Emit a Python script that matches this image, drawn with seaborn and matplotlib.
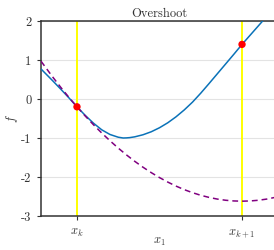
import matplotlib
matplotlib.use("Agg")
import matplotlib.pyplot as plt
import seaborn as sns
import numpy as np
import pandas as pd

# ---- data (x_k = 0, x_{k+1} = 1) ----
blue_x = [-0.218, -0.15, -0.10, -0.05, 0.0, 0.05, 0.10, 0.15, 0.20, 0.25, 0.28,
          0.30, 0.32, 0.35, 0.40, 0.45, 0.50, 0.55, 0.60, 0.65, 0.70, 0.75, 0.80,
          0.85, 0.90, 0.95, 1.00, 1.05, 1.10, 1.15, 1.218]
blue_f = [0.77, 0.48, 0.26, 0.035, -0.20, -0.42, -0.62, -0.79, -0.91, -0.98, -1.0,
          -0.997, -0.99, -0.97, -0.917, -0.84, -0.737, -0.61, -0.457, -0.28, -0.08, 0.15, 0.395,
          0.645, 0.895, 1.145, 1.40, 1.64, 1.88, 2.12, 2.45]

model_x = [-0.218, -0.15, -0.10, -0.05, 0.0, 0.05, 0.10, 0.15, 0.20, 0.25, 0.30,
           0.35, 0.40, 0.45, 0.50, 0.55, 0.60, 0.65, 0.70, 0.75, 0.80, 0.85,
           0.90, 0.95, 1.00, 1.05, 1.10, 1.15, 1.20, 1.218]
model_f = [0.970, 0.58, 0.308, 0.048, -0.20, -0.436, -0.66, -0.872, -1.071, -1.259, -1.434,
           -1.598, -1.749, -1.888, -2.015, -2.130, -2.233, -2.324, -2.402, -2.469, -2.523, -2.566,
           -2.596, -2.614, -2.62, -2.614, -2.596, -2.566, -2.523, -2.505]

iter_x = [0.0, 1.0]
iter_f = [-0.20, 1.40]
iter_labels = [r"$x_k$", r"$x_{k+1}$"]

y_ticks = [2, 1, 0, -1, -2, -3]
y_tick_labels = ["2", "1", "0", "-1", "-2", "-3"]

sns.set_theme(style="white")
plt.rcParams["font.family"] = ["cmr10", "DejaVu Serif"]
plt.rcParams["mathtext.fontset"] = "cm"
plt.rcParams["axes.formatter.use_mathtext"] = True
plt.rcParams["axes.unicode_minus"] = False

fig = plt.figure(figsize=(2.74, 2.5), dpi=100)
ax = fig.add_axes([41 / 274, 34 / 250, 237 / 274, 195 / 250])

ax.grid(axis="y", color="#e3e3e3", linewidth=0.8)
ax.set_axisbelow(True)

for xv in iter_x:
    ax.axvline(xv, color="#ffff00", linewidth=1.4, zorder=1)

df_b = pd.DataFrame({"x": blue_x, "f": blue_f})
df_m = pd.DataFrame({"x": model_x, "f": model_f})
sns.lineplot(data=df_b, x="x", y="f", ax=ax, color="#0a72b8", linewidth=1.1,
             sort=False, zorder=3)
sns.lineplot(data=df_m, x="x", y="f", ax=ax, color="#800080", linewidth=1.1,
             sort=False, zorder=3, dashes=False, linestyle=(0, (3.8, 2.6)))
df_p = pd.DataFrame({"x": iter_x, "f": iter_f})
sns.scatterplot(data=df_p, x="x", y="f", ax=ax, color="#ff0000", s=28,
                edgecolor="none", zorder=4)

ax.set_xlim(-0.218, 1.218)
ax.set_ylim(-3, 2)
ax.set_xticks(iter_x)
ax.set_xticklabels(iter_labels)
ax.set_yticks(y_ticks)
ax.set_yticklabels(y_tick_labels)

for side in ["left", "top", "bottom"]:
    ax.spines[side].set_visible(True)
    ax.spines[side].set_color("#333333")
    ax.spines[side].set_linewidth(1.1)
ax.spines["right"].set_visible(False)

ax.tick_params(axis="both", which="major", direction="out", length=3, width=0.8,
               color="#333333", labelsize=9, pad=4, colors="#333333")
ax.tick_params(axis="x", bottom=True, pad=5)
ax.tick_params(axis="y", left=True)

ax.set_xlabel(r"$x_1$", fontsize=9, color="#333333", labelpad=-3)
ax.set_ylabel(r"$f$", fontsize=9, color="#333333", labelpad=1)
ax.set_title("Overshoot", fontsize=9, color="#333333", pad=3)

fig.savefig("out.png", dpi=100)
